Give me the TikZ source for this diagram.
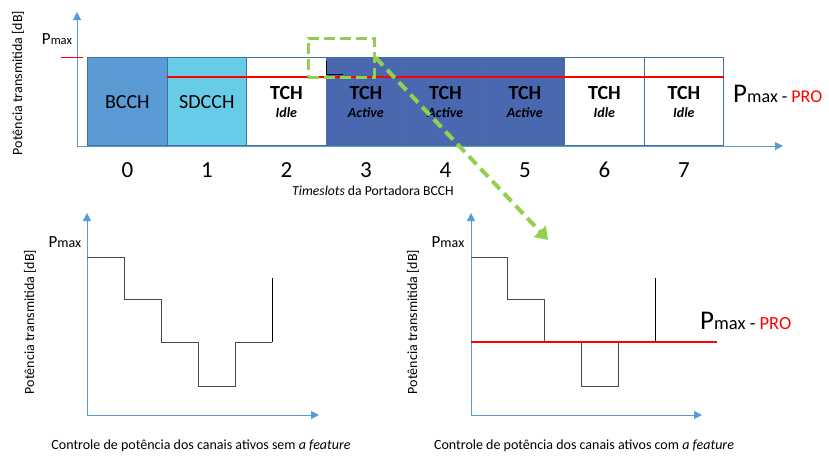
\documentclass[tikz,border=0pt]{standalone}
\usepackage{fontspec}
\setmainfont{Carlito}
\usetikzlibrary{positioning,arrows.meta,calc}
\definecolor{axisblue}{HTML}{5B9BD5}
\definecolor{bcchblue}{HTML}{5B9BD5}
\definecolor{sdcchcyan}{HTML}{66CCE8}
\definecolor{activeblue}{HTML}{4A68B0}
\definecolor{slotedge}{HTML}{41719C}
\definecolor{zoomgreen}{HTML}{92D050}
\definecolor{stepgray}{HTML}{4A4A4A}
\newcommand{\pmaxlabel}[2]{{\fontsize{#1}{#1}\selectfont P}{\fontsize{#2}{#2}\selectfont max}}
\newcommand{\tchtext}[1]{\textbf{TCH}\\[-2pt]{\fontsize{14}{14}\selectfont\bfseries\itshape #1}}
\tikzset{
  axis/.style={draw=axisblue, line width=1pt, -{Triangle[width=8pt,length=8pt]}},
  slot/.style={draw=slotedge, line width=1.2pt, minimum width=79.5pt, minimum height=88pt,
    anchor=north west, inner sep=0pt, align=center, font=\fontsize{20}{20}\selectfont},
  slotnum/.style={font=\fontsize{23}{23}\selectfont, inner sep=0pt},
  ylabel/.style={rotate=90, font=\fontsize{14}{14}\selectfont, inner sep=0pt},
  caption/.style={anchor=base, font=\fontsize{14}{14}\selectfont, inner sep=0pt},
  prolevel/.style={draw=red, line width=2.5pt},
  powerstep/.style={draw=stepgray, line width=1pt},
  zoombox/.style={draw=zoomgreen, line width=3pt, dash pattern=on 11pt off 5pt,
    minimum width=66pt, minimum height=39pt, inner sep=0pt},
  zoomarrow/.style={draw=zoomgreen, line width=4pt, dash pattern=on 11pt off 6pt,
    -{Triangle[width=16pt,length=12pt,fill=zoomgreen]}},
}
\begin{document}
\begin{tikzpicture}[x=1pt, y=-1pt]
\useasboundingbox (0,0) rectangle (829,455);

% slots of the BCCH carrier
\foreach \i/\col/\txt in {0/bcchblue/BCCH, 1/sdcchcyan/SDCCH, 2/white/{\tchtext{Idle}},
  3/activeblue/{\tchtext{Active}}, 4/activeblue/{\tchtext{Active}},
  5/activeblue/{\tchtext{Active}}, 6/white/{\tchtext{Idle}}, 7/white/{\tchtext{Idle}}}
{
  \node [slot, fill=\col] (s\i) at ({87+79.5*\i},57) {\txt};
  \node [slotnum] (n\i) at ($(s\i.south)+(0,24)$) {\i};
}

% axes of the top chart
\coordinate (topO) at (77,146);
\coordinate (topY) at (77,12);
\coordinate (topX) at (783,146);
\draw [axis] (topO) -- (topY);
\draw [axis] (topO) -- (topX);
\draw [red, line width=1pt] (61,57) -- (83,57);
\node [anchor=base, inner sep=0pt] (toppmax) at (57,44) {\pmaxlabel{17}{12.5}};
\node [ylabel] (topylabel) at (18,83) {Potência transmitida [dB]};
\node [caption, font=\fontsize{13.7}{13.7}\selectfont] (topcaption) at (373,195) {\textit{Timeslots} da Portadora BCCH};

% PRO level over the slots
\draw [prolevel] ($(s1.north west)+(0,20)$) -- ($(s7.north east)+(0,20)$);
\node [anchor=base west, inner sep=0pt] (toppro) at (733,102)
  {\pmaxlabel{27}{18}{\fontsize{18}{18}\selectfont\ -\ \textcolor{red}{PRO}}};
\draw [black, line width=0.8pt] (326,61) -- (326,74) -- (343,74);

% zoom marker
\node [zoombox] (zoom) at (341,57.5) {};
\coordinate (zoomtip) at (548,240);
\draw [zoomarrow] (zoom.east) -- (zoomtip);

% bottom left: without the feature
\coordinate (leftO) at (87,415);
\coordinate (leftY) at (87,213);
\coordinate (leftX) at (319,415);
\draw [axis] (leftO) -- (leftY);
\draw [axis] (leftO) -- (leftX);
\node [anchor=base, inner sep=0pt] (leftpmax) at (65,247) {\pmaxlabel{17}{14}};
\node [ylabel] (leftylabel) at (30,322) {Potência transmitida [dB]};
\draw [powerstep] (87,257) -- (124,257) -- (124,299) -- (161,299) -- (161,342)
  -- (198,342) -- (198,386) -- (235,386) -- (235,342) -- (272,342);
\draw [black, line width=1pt] (272,342) -- (272,278);
\node [caption] (leftcaption) at (201,449) {Controle de potência dos canais ativos sem \textit{a feature}};

% bottom right: with the feature
\coordinate (rightO) at (471,415);
\coordinate (rightY) at (471,213);
\coordinate (rightX) at (702,415);
\draw [axis] (rightO) -- (rightY);
\draw [axis] (rightO) -- (rightX);
\node [anchor=base, inner sep=0pt] (rightpmax) at (448,247) {\pmaxlabel{17}{14}};
\node [ylabel] (rightylabel) at (413,322) {Potência transmitida [dB]};
\draw [powerstep] (471,257) -- (507,257) -- (507,299) -- (544,299) -- (544,342)
  -- (581,342) -- (581,386) -- (618,386) -- (618,342) -- (655,342);
\draw [black, line width=1pt] (655,342) -- (655,278);
\draw [prolevel] (471,342) -- (717,342);
\node [anchor=base west, inner sep=0pt] (rightpro) at (700,329)
  {\pmaxlabel{27}{18.5}{\fontsize{18.5}{18.5}\selectfont\ -\ \textcolor{red}{PRO}}};
\node [caption] (rightcaption) at (584,449) {Controle de potência dos canais ativos com \textit{a feature}};
\end{tikzpicture}
\end{document}
